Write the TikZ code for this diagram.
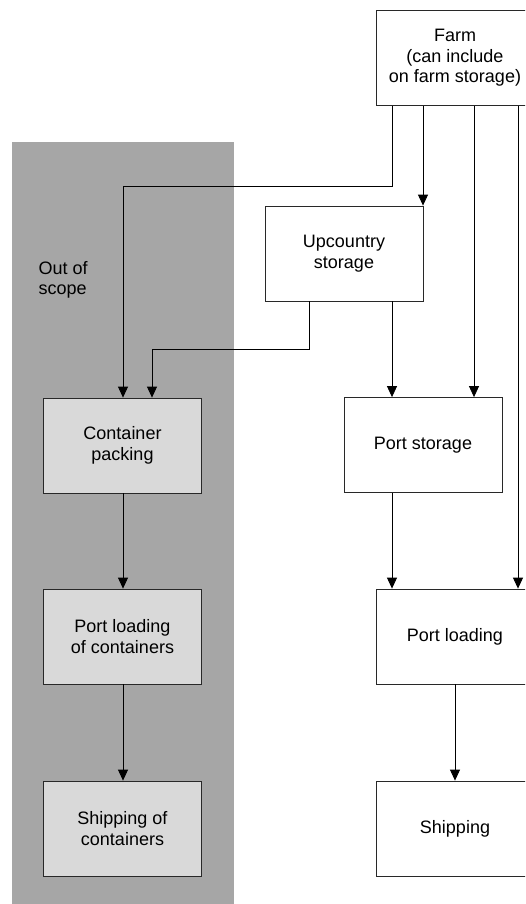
\documentclass[tikz,border=0pt]{standalone}
\usepackage{fontspec}
\setmainfont{Liberation Sans}
\usetikzlibrary{arrows.meta}
\definecolor{scopegray}{RGB}{166,166,166}
\definecolor{boxgray}{RGB}{217,217,217}
\definecolor{linegray}{RGB}{40,40,40}
\begin{document}
\begin{tikzpicture}[x=1pt,y=-1pt,
  every node/.style={font=\fontsize{18}{20.5}\selectfont},
  stage/.style={draw=linegray,line width=0.8pt,fill=white,minimum width=158pt,minimum height=95pt,inner sep=0pt,align=center},
  oos/.style={stage,fill=boxgray},
  flow/.style={draw=black,line width=0.8pt,-{Triangle[width=10pt,length=11pt]}}]
\useasboundingbox (0,0) rectangle (525,904);
\clip (0,0) rectangle (525,904);
\fill[white] (0,0) rectangle (525,904);
\fill[scopegray] (12,142) rectangle (234,904);
\node[anchor=west,align=left] (oostext) at (35,280) {Out of\\scope};
\node[stage] (farm) at (455,58) {Farm\\(can include\\on farm storage)};
\node[stage] (upc) at (344,253.5) {Upcountry\\storage};
\node[stage] (pst) at (423,445) {Port storage};
\node[stage] (pld) at (455,636.5) {Port loading};
\node[stage] (shp) at (455,828.5) {Shipping};
\node[oos] (cpk) at (122.5,445.5) {Container\\packing};
\node[oos] (plc) at (122.5,636.5) {Port loading\\of containers};
\node[oos] (shc) at (122.5,828.5) {Shipping of\\containers};
\coordinate (x123) at (123,0);
\coordinate (x152) at (152,0);
\coordinate (x309) at (309,0);
\coordinate (x392) at (392,0);
\coordinate (x423) at (423,0);
\coordinate (x455) at (455,0);
\coordinate (x474) at (474,0);
\coordinate (x518) at (518,0);
\coordinate (y186) at (0,186);
\coordinate (y349) at (0,349);
% farm outgoing
\draw[flow] (farm.south -| x392) -- (x392 |- y186) -- (x123 |- y186) -- (cpk.north -| x123);
\draw[flow] (farm.south -| x423) -- (upc.north -| x423);
\draw[flow] (farm.south -| x474) -- (pst.north -| x474);
\draw[flow] (farm.south -| x518) -- (pld.north -| x518);
% upcountry outgoing
\draw[flow] (upc.south -| x309) -- (x309 |- y349) -- (x152 |- y349) -- (cpk.north -| x152);
\draw[flow] (upc.south -| x392) -- (pst.north -| x392);
% port chain
\draw[flow] (pst.south -| x392) -- (pld.north -| x392);
\draw[flow] (pld.south -| x455) -- (shp.north -| x455);
% container chain
\draw[flow] (cpk.south -| x123) -- (plc.north -| x123);
\draw[flow] (plc.south -| x123) -- (shc.north -| x123);
\end{tikzpicture}
\end{document}
